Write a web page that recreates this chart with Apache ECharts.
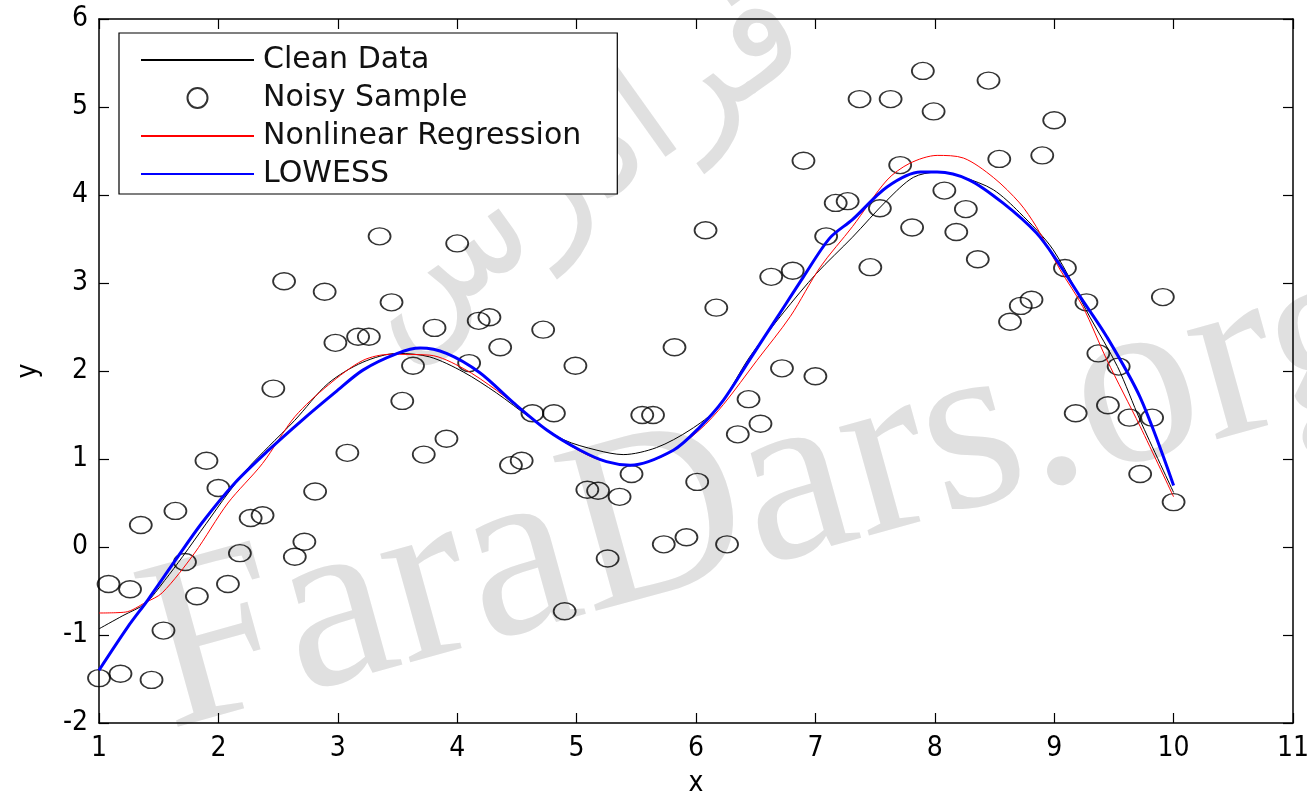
<!DOCTYPE html>
<html><head><meta charset="utf-8">
<script src="https://cdn.jsdelivr.net/npm/echarts@6/dist/echarts.min.js"></script>
<style>html,body{margin:0;padding:0;background:#fff}#c{width:1307px;height:796px}</style>
</head><body><div id="c"></div>
<script>
const sampleX = [1.00,1.08,1.18,1.26,1.35,1.44,1.54,1.64,1.72,1.82,1.90,2.00,2.08,2.18,2.27,2.37,2.46,2.55,2.64,2.72,2.81,2.89,2.98,3.08,3.17,3.26,3.35,3.45,3.54,3.63,3.72,3.81,3.91,4.00,4.10,4.18,4.27,4.36,4.45,4.54,4.63,4.72,4.81,4.90,4.99,5.09,5.18,5.26,5.36,5.46,5.55,5.64,5.73,5.82,5.92,6.01,6.08,6.17,6.26,6.35,6.44,6.54,6.63,6.72,6.81,6.90,7.00,7.09,7.17,7.27,7.37,7.46,7.54,7.63,7.71,7.81,7.90,7.99,8.08,8.18,8.26,8.36,8.45,8.54,8.63,8.72,8.81,8.90,9.00,9.09,9.18,9.27,9.37,9.45,9.54,9.63,9.72,9.82,9.91,10.00];
const sampleY = [-1.49,-0.42,-1.44,-0.48,0.25,-1.51,-0.95,0.41,-0.17,-0.56,
0.98,0.67,-0.42,-0.07,0.33,0.36,1.80,3.02,-0.11,0.06,
0.63,2.90,2.32,1.07,2.39,2.39,3.53,2.78,1.66,2.06,
1.05,2.49,1.23,3.45,2.09,2.57,2.61,2.27,0.93,0.98,
1.52,2.47,1.52,-0.73,2.06,0.65,0.64,-0.13,0.57,0.83,
1.50,1.50,0.03,2.27,0.11,0.74,3.60,2.72,0.03,1.28,
1.68,1.40,3.07,2.03,3.14,4.39,1.94,3.53,3.91,3.93,
5.09,3.18,3.85,5.09,4.34,3.63,5.41,4.95,4.05,3.58,
3.84,3.27,5.30,4.41,2.56,2.74,2.81,4.45,4.85,3.17,
1.52,2.78,2.20,1.61,2.05,1.47,0.83,1.47,2.84,0.51];

const cleanX = [1.00,1.20,1.39,1.55,1.70,1.90,2.08,2.25,2.42,2.64,2.92,3.21,3.50,3.77,4.05,4.33,4.61,4.89,5.17,5.39,5.67,5.95,6.18,6.45,6.73,7.01,7.31,7.60,7.82,8.02,8.24,8.49,8.71,8.99,9.30,9.53,9.72,10.00];
const cleanY = [-0.93,-0.78,-0.64,-0.38,-0.11,0.27,0.61,0.90,1.14,1.44,1.86,2.10,2.20,2.16,1.99,1.75,1.47,1.22,1.10,1.05,1.13,1.33,1.58,2.16,2.66,3.11,3.52,3.94,4.20,4.26,4.20,4.06,3.80,3.38,2.61,2.05,1.44,0.62];

const nlrX = [1.00,1.22,1.39,1.53,1.80,2.08,2.37,2.64,2.92,3.21,3.44,3.77,4.05,4.33,4.61,4.89,5.17,5.45,5.75,6.03,6.23,6.51,6.79,7.04,7.31,7.60,7.79,8.02,8.24,8.49,8.71,8.85,9.05,9.24,9.44,9.72,10.00];
const nlrY = [-0.75,-0.74,-0.63,-0.52,-0.07,0.50,0.95,1.48,1.84,2.12,2.19,2.18,2.03,1.78,1.48,1.20,1.00,0.93,1.05,1.33,1.62,2.12,2.62,3.18,3.64,4.17,4.36,4.45,4.42,4.20,3.91,3.64,3.15,2.73,2.13,1.37,0.57];

const lowessX = [1.00,1.24,1.41,1.64,1.86,2.14,2.42,2.70,2.98,3.21,3.50,3.69,3.91,4.19,4.47,4.75,5.03,5.25,5.45,5.81,6.03,6.23,6.45,6.68,6.90,7.12,7.31,7.60,7.88,8.02,8.29,8.57,8.85,9.02,9.22,9.44,9.72,10.00];
const lowessY = [-1.40,-0.91,-0.60,-0.15,0.27,0.73,1.10,1.44,1.76,2.01,2.20,2.26,2.20,1.98,1.64,1.33,1.10,0.97,0.93,1.10,1.36,1.67,2.13,2.61,3.07,3.51,3.72,4.09,4.26,4.26,4.17,3.91,3.57,3.26,2.84,2.39,1.70,0.70];

const seriesNames = ['Clean Data','Noisy Sample','Nonlinear Regression','LOWESS'];
const xMin = 1, xMax = 11, yMin = -2, yMax = 6;

const zip = (a, b) => a.map((v, i) => [v, b[i]]);
const tickFont = "'Liberation Sans Narrow','DejaVu Sans Condensed','Liberation Sans',sans-serif";

const chart = echarts.init(document.getElementById('c'), null, {renderer: 'canvas'});
const axisCommon = {
  axisLine: {show: true, onZero: false, lineStyle: {color: '#000', width: 1.5}},
  axisTick: {show: true, inside: true, length: 10, lineStyle: {color: '#000', width: 1.2}},
  splitLine: {show: false}
};
chart.setOption({
  backgroundColor: '#fff',
  animation: false,
  grid: {left: 99, right: 14, top: 19, bottom: 73, show: false, outerBoundsMode: 'none', containLabel: false},
  graphic: [
    {type: 'text', x: 185, y: 785, rotation: 0.27, z: -10, silent: true,
     style: {text: 'FaraDars.org', font: "245px 'Liberation Serif', serif", fill: '#e0e0e0', textAlign: 'left', textVerticalAlign: 'bottom'}},
    {type: 'text', x: 580, y: 170, rotation: 0.62, z: -10, silent: true,
     style: {text: 'فرادرس', font: "150px 'DejaVu Sans', sans-serif", fill: '#e0e0e0', textAlign: 'center', textVerticalAlign: 'middle'}}
  ],
  legend: {
    orient: 'vertical', left: 119, top: 33,
    data: [
      {name: seriesNames[0], itemStyle: {opacity: 0}},
      {name: seriesNames[1]},
      {name: seriesNames[2], itemStyle: {opacity: 0}},
      {name: seriesNames[3], itemStyle: {opacity: 0}}
    ],
    backgroundColor: '#fff', borderColor: '#000', borderWidth: 1.2,
    padding: [12, 36, 5, 21],
    itemWidth: 113, itemHeight: 20, itemGap: 8,
    textStyle: {fontFamily: "'DejaVu Sans',sans-serif", fontSize: 30, color: '#111', padding: [0, 0, 0, 4]},
    z: 10
  },
  xAxis: [
    Object.assign({type: 'value', min: xMin, max: xMax, interval: 1, position: 'bottom',
      name: 'x', nameLocation: 'middle', nameGap: 47,
      nameTextStyle: {fontFamily: tickFont, fontSize: 28, color: '#000'},
      axisLabel: {margin: 12, fontFamily: tickFont, fontSize: 28, color: '#000'}}, axisCommon),
    Object.assign({type: 'value', min: xMin, max: xMax, interval: 1, position: 'top',
      axisLabel: {show: false}}, axisCommon)
  ],
  yAxis: [
    Object.assign({type: 'value', min: yMin, max: yMax, interval: 1, position: 'left',
      name: 'y', nameLocation: 'middle', nameGap: 56, nameRotate: 90,
      nameTextStyle: {fontFamily: tickFont, fontSize: 28, color: '#000'},
      axisLabel: {margin: 11, fontFamily: tickFont, fontSize: 28, color: '#000'}}, axisCommon),
    Object.assign({type: 'value', min: yMin, max: yMax, interval: 1, position: 'right',
      axisLabel: {show: false}}, axisCommon)
  ],
  series: [
    {name: seriesNames[0], type: 'line', data: zip(cleanX, cleanY), smooth: 0.3, symbol: 'none',
     lineStyle: {color: '#000', width: 1}, itemStyle: {color: '#000'}, z: 3},
    {name: seriesNames[1], type: 'scatter', data: zip(sampleX, sampleY), symbol: 'circle', symbolSize: [22, 17],
     itemStyle: {color: 'rgba(0,0,0,0)', borderColor: '#000', borderWidth: 1.6}, z: 2},
    {name: seriesNames[2], type: 'line', data: zip(nlrX, nlrY), smooth: 0.3, symbol: 'none',
     lineStyle: {color: '#ff0000', width: 1}, itemStyle: {color: '#ff0000'}, z: 4},
    {name: seriesNames[3], type: 'line', data: zip(lowessX, lowessY), smooth: 0.3, symbol: 'none',
     lineStyle: {color: '#0000ff', width: 3}, itemStyle: {color: '#0000ff'}, z: 5}
  ]
});
</script></body></html>
